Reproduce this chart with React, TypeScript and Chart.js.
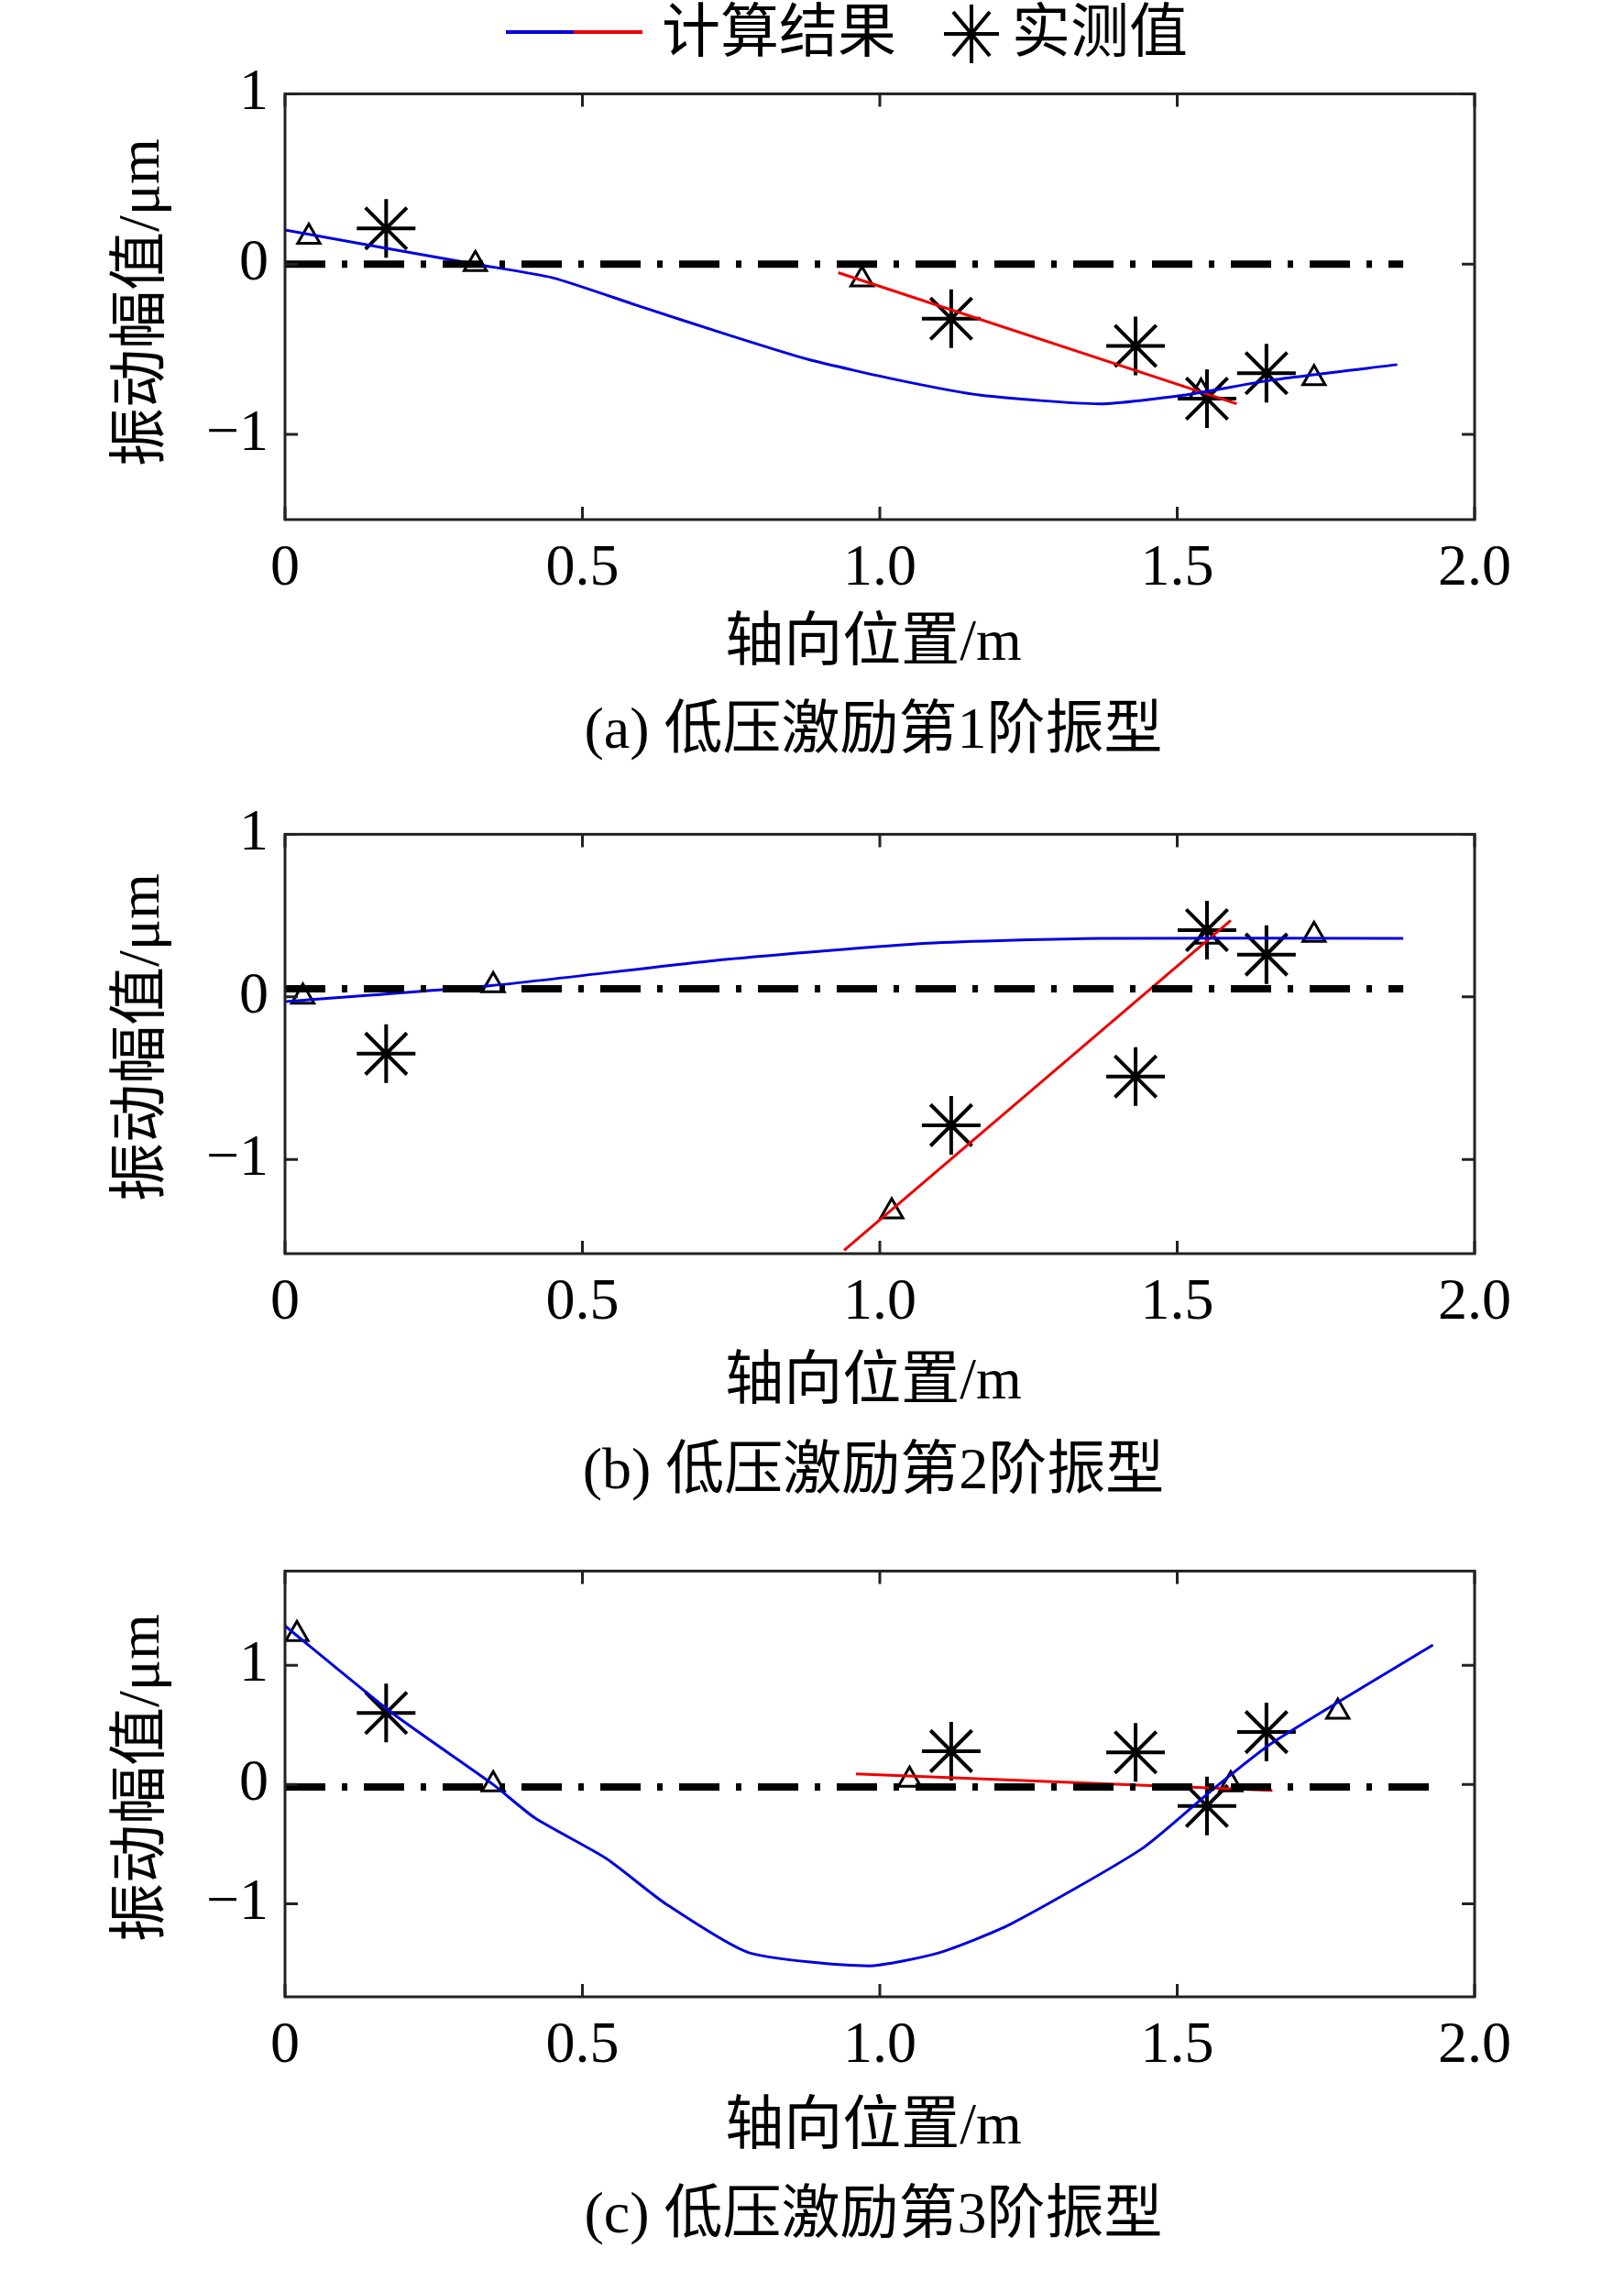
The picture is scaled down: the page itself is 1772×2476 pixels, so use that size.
import React, { useEffect, useRef } from "react";
import { Chart, registerables } from "chart.js";
Chart.register(...registerables);

type P = { x: number; y: number };
const mk = (xs: number[], ys: number[]): P[] => xs.map((x, i) => ({ x, y: ys[i] }));

const xTicks = [0, 0.5, 1.0, 1.5, 2.0];
const xTickLabels = ["0", "0.5", "1.0", "1.5", "2.0"];
const yTicks = [1, 0, -1];

// Panel (a)
const aBlueX = [0, 0.32, 0.45, 0.59, 0.74, 0.88, 1.03, 1.17, 1.37, 1.51, 1.66, 1.87];
const aBlueY = [0.2, 0, -0.08, -0.24, -0.41, -0.56, -0.68, -0.77, -0.82, -0.77, -0.68, -0.59];
const aRedX = [0.93, 1.6];
const aRedY = [-0.05, -0.82];
const aStarX = [0.17, 1.12, 1.43, 1.55, 1.65];
const aStarY = [0.21, -0.32, -0.48, -0.79, -0.64];
const aTriX = [0.04, 0.32, 0.97, 1.54, 1.73];
const aTriY = [0.16, 0, -0.09, -0.75, -0.67];
const aZeroX = [0, 1.88];
const aZeroY = [0, 0];

// Panel (b)
const bBlueX = [0, 0.35, 0.74, 1.08, 1.37, 1.88];
const bBlueY = [-0.03, 0.07, 0.23, 0.33, 0.36, 0.36];
const bRedX = [0.94, 1.59];
const bRedY = [-1.56, 0.47];
const bStarX = [0.17, 1.12, 1.43, 1.55, 1.65];
const bStarY = [-0.35, -0.79, -0.49, 0.41, 0.26];
const bTriX = [0.03, 0.35, 1.02, 1.55, 1.73];
const bTriY = [0.0, 0.07, -1.32, 0.37, 0.38];
const bZeroX = [0, 1.88];
const bZeroY = [0.05, 0.05];

// Panel (c)
const cBlueX = [0, 0.18, 0.35, 0.42, 0.54, 0.64, 0.78, 0.98, 1.1, 1.22, 1.44, 1.56, 1.66, 1.93];
const cBlueY = [1.33, 0.6, 0, -0.28, -0.62, -1.0, -1.41, -1.52, -1.41, -1.17, -0.54, -0.04, 0.35, 1.17];
const cRedX = [0.96, 1.66];
const cRedY = [0.09, -0.05];
const cStarX = [0.17, 1.12, 1.43, 1.55, 1.65];
const cStarY = [0.6, 0.28, 0.27, -0.18, 0.44];
const cTriX = [0.02, 0.35, 1.05, 1.59, 1.77];
const cTriY = [1.26, 0, 0.04, 0, 0.61];
const cZeroX = [0, 1.95];
const cZeroY = [-0.02, -0.02];

const SERIF = '"Liberation Serif", "Noto Sans CJK SC", serif';
const FS = 64;

const framePlugin = {
  id: "frame",
  afterDraw(chart: any) {
    const { ctx, chartArea: a, scales } = chart;
    ctx.save();
    ctx.strokeStyle = "#222";
    ctx.lineWidth = 3;
    ctx.strokeRect(a.left, a.top, a.right - a.left, a.bottom - a.top);
    const L = 14;
    ctx.beginPath();
    for (const v of xTicks) {
      const px = scales.x.getPixelForValue(v);
      ctx.moveTo(px, a.bottom); ctx.lineTo(px, a.bottom - L);
      ctx.moveTo(px, a.top); ctx.lineTo(px, a.top + L);
    }
    for (const v of yTicks) {
      const py = scales.y.getPixelForValue(v);
      if (py < a.top - 1 || py > a.bottom + 1) continue;
      ctx.moveTo(a.left, py); ctx.lineTo(a.left + L, py);
      ctx.moveTo(a.right, py); ctx.lineTo(a.right - L, py);
    }
    ctx.stroke();
    ctx.restore();
  },
};

type PanelProps = {
  top: number; plotH: number; ymin: number; ymax: number;
  blue: P[]; red: P[]; star: P[]; tri: P[]; zero: P[];
};

function Panel(p: PanelProps) {
  const ref = useRef<HTMLCanvasElement>(null);
  const padTop = 40, xH = 100;
  const W = 1772, H = padTop + p.plotH + xH;
  useEffect(() => {
    const chart = new Chart(ref.current!, {
      type: "scatter",
      data: {
        datasets: [
          { data: p.zero, showLine: true, borderColor: "#000", borderWidth: 8, borderDash: [44, 18, 6, 18], pointRadius: 0 } as any,
          { data: p.blue, showLine: true, borderColor: "#0000e0", borderWidth: 3, pointRadius: 0, tension: 0.2 } as any,
          { data: p.red, showLine: true, borderColor: "#ee0000", borderWidth: 3, pointRadius: 0 } as any,
          { data: p.tri, pointStyle: "triangle", pointRadius: 14, borderColor: "#000", borderWidth: 3, backgroundColor: "rgba(0,0,0,0)" } as any,
          { data: p.star, pointStyle: "star", pointRadius: 32, borderColor: "#000", borderWidth: 4, backgroundColor: "rgba(0,0,0,0)" } as any,
        ],
      },
      options: {
        animation: false,
        responsive: false,
        devicePixelRatio: 1,
        layout: { padding: { top: padTop, right: W - 1609, left: 0, bottom: 0 } },
        plugins: { legend: { display: false }, tooltip: { enabled: false } },
        scales: {
          x: {
            type: "linear", min: 0, max: 2,
            afterBuildTicks: (s: any) => { s.ticks = xTicks.map((v) => ({ value: v })); },
            afterFit: (s: any) => { s.height = xH; },
            ticks: { callback: (v: any) => xTickLabels[xTicks.indexOf(Number(v))] ?? "", font: { family: SERIF, size: FS }, color: "#000", padding: 8, maxRotation: 0 },
            grid: { display: false },
            border: { display: false },
          },
          y: {
            type: "linear", min: p.ymin, max: p.ymax,
            afterBuildTicks: (s: any) => { s.ticks = yTicks.map((v) => ({ value: v })); },
            afterFit: (s: any) => { s.width = 311; },
            ticks: { callback: (v: any) => (Number(v) < 0 ? "\u2212" + Math.abs(Number(v)) : String(v)), font: { family: SERIF, size: FS }, color: "#000", padding: 10 },
            grid: { display: false },
            border: { display: false },
          },
        },
      },
      plugins: [framePlugin],
    });
    return () => chart.destroy();
  }, []);
  return <canvas ref={ref} width={W} height={H} style={{ position: "absolute", left: 0, top: p.top - padTop, width: W, height: H }} />;
}

const txt = (s: string, x: number, y: number, extra: any = {}) => (
  <div style={{ position: "absolute", left: x, top: y, transform: "translate(-50%,-50%)", fontFamily: SERIF, fontSize: FS, whiteSpace: "nowrap", color: "#000", lineHeight: 1, ...extra }}>{s}</div>
);

export default function App() {
  return (
    <div style={{ position: "absolute", left: 0, top: 0, width: 1772, height: 2476, background: "#fff", overflow: "hidden" }}>
      <div style={{ position: "absolute", left: 552, top: 33, width: 74, height: 4, background: "#0000e0" }} />
      <div style={{ position: "absolute", left: 626, top: 33, width: 75, height: 4, background: "#ee0000" }} />
      {txt("计算结果", 850, 35)}
      <svg style={{ position: "absolute", left: 1028, top: 3 }} width="64" height="68">
        <g stroke="#000" strokeWidth="4">
          <line x1="32" y1="2" x2="32" y2="66" />
          <line x1="2" y1="34" x2="62" y2="34" />
          <line x1="12" y1="10" x2="52" y2="58" />
          <line x1="52" y1="10" x2="12" y2="58" />
        </g>
      </svg>
      {txt("实测值", 1200, 35)}

      <Panel top={94} plotH={473} ymin={-1.5} ymax={1} blue={mk(aBlueX, aBlueY)} red={mk(aRedX, aRedY)} star={mk(aStarX, aStarY)} tri={mk(aTriX, aTriY)} zero={mk(aZeroX, aZeroY)} />
      <Panel top={902} plotH={466} ymin={-1.58} ymax={1} blue={mk(bBlueX, bBlueY)} red={mk(bRedX, bRedY)} star={mk(bStarX, bStarY)} tri={mk(bTriX, bTriY)} zero={mk(bZeroX, bZeroY)} />
      <Panel top={1706} plotH={473} ymin={-1.78} ymax={1.79} blue={mk(cBlueX, cBlueY)} red={mk(cRedX, cRedY)} star={mk(cStarX, cStarY)} tri={mk(cTriX, cTriY)} zero={mk(cZeroX, cZeroY)} />

      {txt("振动幅值/μm", 152, 330, { transform: "translate(-50%,-50%) rotate(-90deg)" })}
      {txt("振动幅值/μm", 152, 1132, { transform: "translate(-50%,-50%) rotate(-90deg)" })}
      {txt("振动幅值/μm", 152, 1940, { transform: "translate(-50%,-50%) rotate(-90deg)" })}

      {txt("轴向位置/m", 953, 699)}
      {txt("轴向位置/m", 953, 1505)}
      {txt("轴向位置/m", 953, 2318)}

      {txt("(a) 低压激励第1阶振型", 953, 795)}
      {txt("(b) 低压激励第2阶振型", 953, 1603)}
      {txt("(c) 低压激励第3阶振型", 953, 2415)}
    </div>
  );
}
